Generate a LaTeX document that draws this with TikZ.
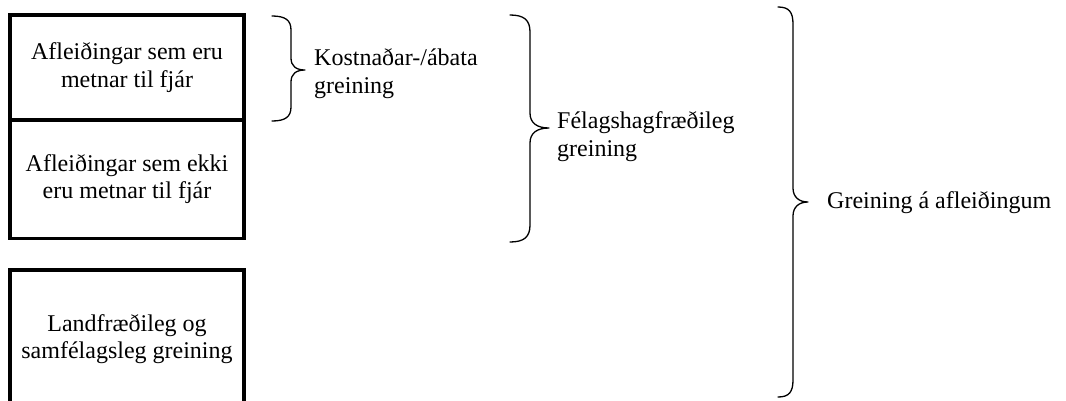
\documentclass[tikz,border=0pt]{standalone}
\usepackage{fontspec}
\setmainfont{Liberation Serif}
\begin{document}
\begin{tikzpicture}[x=1pt,y=-1pt,
  box/.style={draw=black,line width=3.3pt,inner sep=0pt,align=center,
    font=\fontsize{24}{27.6}\selectfont},
  label/.style={inner sep=0pt,align=left,anchor=base west,
    font=\fontsize{24}{27.6}\selectfont},
  curly/.style={draw=black,line width=1.3pt,line cap=round,line join=round}]
\useasboundingbox (0,0) rectangle (1066,400);
\clip (0,0) rectangle (1066,400);

% boxes on the left
\node[box,minimum width=234pt,minimum height=105pt] (monetary) at (127,67.5)
  {Afleiðingar sem eru\\metnar til fjár};
\node[box,minimum width=234pt,minimum height=118.5pt] (nonmonetary) at (127,179.25)
  {Afleiðingar sem ekki\\eru metnar til fjár};
\node[box,minimum width=234pt,minimum height=138pt] (spatial) at (127,339)
  {Landfræðileg og\\samfélagsleg greining};

% brace over the monetary effects (label anchored at its last baseline)
\coordinate (b1top) at (272,16);
\coordinate (b1tip) at (305,70);
\coordinate (b1bot) at (272,121);
\draw[curly] (b1top) .. controls (285,16) and (291,20) .. (291,30)
  -- (291,58) .. controls (291,66) and (296,70) .. (b1tip)
  .. controls (296,70) and (291,74) .. (291,82)
  -- (291,107) .. controls (291,117) and (285,121) .. (b1bot);
\node[label] (cba) at (314,93) {Kostnaðar-/ábata\\greining};

% brace over both upper boxes
\coordinate (b2top) at (510,15);
\coordinate (b2tip) at (549,128);
\coordinate (b2bot) at (510,242);
\draw[curly] (b2top) .. controls (524,15) and (530,20) .. (530,32)
  -- (530,113) .. controls (530,123) and (537,128) .. (b2tip)
  .. controls (537,128) and (530,133) .. (530,143)
  -- (530,225) .. controls (530,237) and (524,242) .. (b2bot);
\node[label] (socio) at (557,156) {Félagshagfræðileg\\greining};

% brace over everything
\coordinate (b3top) at (778,7);
\coordinate (b3tip) at (808,202);
\coordinate (b3bot) at (778,397);
\draw[curly] (b3top) .. controls (789,7) and (793,12) .. (793,24)
  -- (793,188) .. controls (793,197) and (799,202) .. (b3tip)
  .. controls (799,202) and (793,207) .. (793,216)
  -- (793,380) .. controls (793,392) and (789,397) .. (b3bot);
\node[label] (impact) at (827,208) {Greining á afleiðingum};
\end{tikzpicture}
\end{document}
